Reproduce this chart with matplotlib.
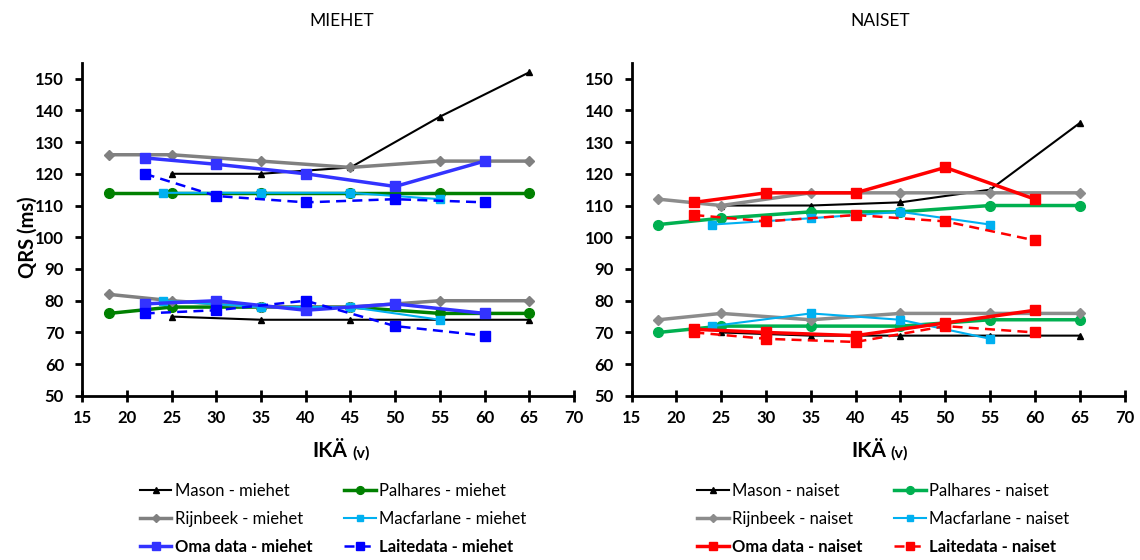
import matplotlib
matplotlib.use('Agg')
import matplotlib.pyplot as plt
from matplotlib.lines import Line2D

plt.rcParams['font.family'] = ['Lato', 'DejaVu Sans']

# ages
age_mason = [25, 35, 45, 55, 65]
age_palh = [18, 25, 35, 45, 55, 65]
age_rijn = [18, 25, 35, 45, 55, 65]
age_macf = [24, 35, 45, 55]
age_oma = [22, 30, 40, 50, 60]
age_laite = [22, 30, 40, 50, 60]

# miehet: upper (QRS max) and lower (QRS mean) curves
mason_m_hi = [120, 120, 122, 138, 152]
mason_m_lo = [75, 74, 74, 74, 74]
palh_m_hi = [114, 114, 114, 114, 114, 114]
palh_m_lo = [76, 78, 78, 78, 76, 76]
rijn_m_hi = [126, 126, 124, 122, 124, 124]
rijn_m_lo = [82, 80, 78, 78, 80, 80]
macf_m_hi = [114, 114, 114, 112]
macf_m_lo = [80, 78, 78, 74]
oma_m_hi = [125, 123, 120, 116, 124]
oma_m_lo = [79, 80, 77, 79, 76]
laite_m_hi = [120, 113, 111, 112, 111]
laite_m_lo = [76, 77, 80, 72, 69]

# naiset
mason_n_hi = [110, 110, 111, 115, 136]
mason_n_lo = [70, 69, 69, 69, 69]
palh_n_hi = [104, 106, 108, 108, 110, 110]
palh_n_lo = [70, 72, 72, 72, 74, 74]
rijn_n_hi = [112, 110, 114, 114, 114, 114]
rijn_n_lo = [74, 76, 74, 76, 76, 76]
macf_n_hi = [104, 106, 108, 104]
macf_n_lo = [72, 76, 74, 68]
oma_n_hi = [111, 114, 114, 122, 112]
oma_n_lo = [71, 70, 69, 73, 77]
laite_n_hi = [107, 105, 107, 105, 99]
laite_n_lo = [70, 68, 67, 72, 70]

fig = plt.figure(figsize=(11.4, 5.6), dpi=100)
ax1 = fig.add_axes([0.072, 0.293, 0.4316, 0.595])
ax2 = fig.add_axes([0.554, 0.293, 0.4325, 0.595])


def draw(ax, sex, oma_col, laite_col, palh_col, rijn_col, d):
    styles = [
        ('Mason', age_mason, d['mason'], dict(color='black', lw=1.5, marker='^', ms=5)),
        ('Palhares', age_palh, d['palh'], dict(color=palh_col, lw=2.5, marker='o', ms=7)),
        ('Rijnbeek', age_rijn, d['rijn'], dict(color=rijn_col, lw=2.5, marker='D', ms=5.5)),
        ('Macfarlane', age_macf, d['macf'], dict(color='#00b0f0', lw=1.5, marker='s', ms=6)),
        ('Oma data', age_oma, d['oma'], dict(color=oma_col, lw=2.5, marker='s', ms=6.5)),
        ('Laitedata', age_laite, d['laite'], dict(color=laite_col, lw=1.8, ls=(0, (4, 2.5)),
                                                  marker='s', ms=6.5)),
    ]
    handles = {}
    for name, x, (hi, lo), st in styles:
        ax.plot(x, hi, **st)
        ax.plot(x, lo, **st)
        handles[name] = Line2D([], [], **dict(st, ms=st['ms'] * 0.8))
    order = ['Mason', 'Rijnbeek', 'Oma data', 'Palhares', 'Macfarlane', 'Laitedata']
    leg = ax.legend([handles[k] for k in order], ['%s - %s' % (k, sex) for k in order],
                    loc='upper center', bbox_to_anchor=(0.51, -0.215), ncol=2,
                    frameon=False, fontsize=12, handlelength=1.9, handletextpad=0.2,
                    columnspacing=1.9, labelspacing=0.72)
    for t in leg.get_texts():
        if t.get_text().startswith(('Oma', 'Laite')):
            t.set_fontweight('bold')

    ax.set_xlim(15, 70)
    ax.set_ylim(50, 155)
    ax.set_xticks(range(15, 71, 5))
    ax.set_yticks(range(50, 151, 10))
    for s in ['top', 'right']:
        ax.spines[s].set_visible(False)
    for s in ['left', 'bottom']:
        ax.spines[s].set_linewidth(2)
    ax.tick_params(axis='x', direction='inout', length=8, width=2, labelsize=12, pad=6)
    ax.tick_params(axis='y', direction='out', length=5, width=2, labelsize=12, pad=8)
    for lab in ax.get_xticklabels() + ax.get_yticklabels():
        lab.set_fontweight('bold')


draw(ax1, 'miehet', '#3333ff', '#0000ff', '#008000', '#808080',
     dict(mason=(mason_m_hi, mason_m_lo), palh=(palh_m_hi, palh_m_lo),
          rijn=(rijn_m_hi, rijn_m_lo), macf=(macf_m_hi, macf_m_lo),
          oma=(oma_m_hi, oma_m_lo), laite=(laite_m_hi, laite_m_lo)))
draw(ax2, 'naiset', '#ff0000', '#ff0000', '#00b050', '#8c8c8c',
     dict(mason=(mason_n_hi, mason_n_lo), palh=(palh_n_hi, palh_n_lo),
          rijn=(rijn_n_hi, rijn_n_lo), macf=(macf_n_hi, macf_n_lo),
          oma=(oma_n_hi, oma_n_lo), laite=(laite_n_hi, laite_n_lo)))

fig.text(0.30, 0.962, 'MIEHET', ha='center', va='center', fontsize=12.5)
fig.text(0.772, 0.962, 'NAISET', ha='center', va='center', fontsize=12.5)
fig.text(0.024, 0.577, 'QRS (ms)', rotation=90, ha='center', va='center',
         fontsize=14.5, fontweight='bold')
for xc in [0.305, 0.777]:
    fig.text(xc, 0.195, r'IKÄ', ha='right', va='center', fontsize=15, fontweight='bold')
    fig.text(xc + 0.004, 0.19, '(v)', ha='left', va='center', fontsize=11.5, fontweight='bold')

plt.savefig('out.png')
